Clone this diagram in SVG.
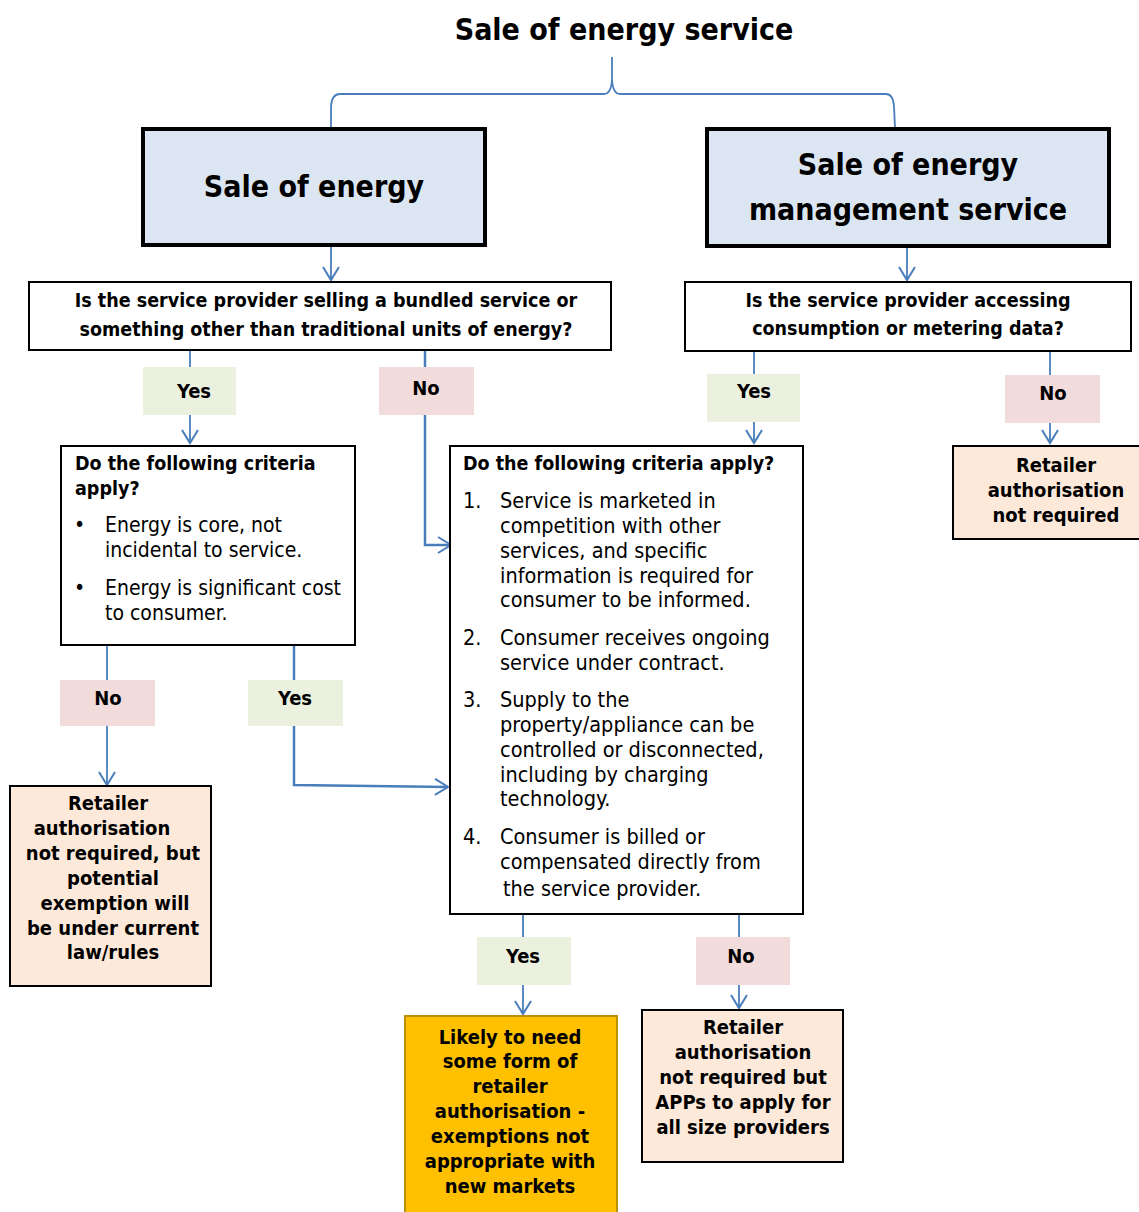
<svg xmlns="http://www.w3.org/2000/svg" width="1139" height="1212" viewBox="0 0 1139 1212">
<style>
text{font-family:"DejaVu Sans Condensed","DejaVu Sans",sans-serif;fill:#000}
.b{font-weight:bold}
.t{font-size:30px;font-weight:bold;text-anchor:middle}
.h{font-size:30px;font-weight:bold;text-anchor:middle}
.q{font-size:19.5px;font-weight:bold;text-anchor:middle}
.c{font-size:21.5px}
.c1{font-size:21px}
.ch{font-size:19.5px;font-weight:bold}
.r{font-size:20px;font-weight:bold;text-anchor:middle}
.l{font-size:20px;font-weight:bold;text-anchor:middle}
.hb{fill:#dce6f2;stroke:#000;stroke-width:4}
.qb{fill:#fff;stroke:#000;stroke-width:2}
.rb{fill:#fde9d9;stroke:#000;stroke-width:2}
.gb{fill:#ffc000;stroke:#b8900a;stroke-width:2}
.yes{fill:#ebf1de}
.no{fill:#f2dcdb}
.cn{fill:none;stroke:#4a7ebb;stroke-width:1.8}
.th{stroke-width:2.5}
</style>
<defs>
<marker id="ah" markerUnits="userSpaceOnUse" markerWidth="22" markerHeight="22" refX="14" refY="9" orient="auto">
<path d="M1,1 L14,9 L1,17" fill="none" stroke="#4a7ebb" stroke-width="2"/>
</marker>
</defs>

<text class="t" x="624" y="40">Sale of energy service</text>

<g id="connectors">
<path class="cn" d="M331,128 L331,106 Q332,94 340,94 L604,94 Q611,94 612,80 L612,57 M612,80 Q613,94 620,94 L886,94 Q893,94 894,106 L895,128"/>
<path class="cn" d="M331,246 L331,280" marker-end="url(#ah)"/>
<path class="cn" d="M907,247 L907,280" marker-end="url(#ah)"/>
<path class="cn" d="M190,350 L190,367"/>
<path class="cn" d="M190,415 L190,443" marker-end="url(#ah)"/>
<path class="cn th" d="M425,350 L425,367"/>
<path class="cn th" d="M425,415 L425,545 L451,545" marker-end="url(#ah)"/>
<path class="cn" d="M754,351 L754,374"/>
<path class="cn" d="M754,422 L754,443" marker-end="url(#ah)"/>
<path class="cn" d="M1050,351 L1050,375"/>
<path class="cn" d="M1050,423 L1050,443" marker-end="url(#ah)"/>
<path class="cn" d="M107,645 L107,680"/>
<path class="cn" d="M107,726 L107,785" marker-end="url(#ah)"/>
<path class="cn th" d="M294,645 L294,680"/>
<path class="cn th" d="M294,726 L294,785 L448,787" marker-end="url(#ah)"/>
<path class="cn" d="M523,914 L523,937"/>
<path class="cn" d="M523,985 L523,1014" marker-end="url(#ah)"/>
<path class="cn" d="M739,914 L739,937"/>
<path class="cn" d="M739,985 L739,1008" marker-end="url(#ah)"/>
</g>

<g id="n-sale-energy">
<rect class="hb" x="143" y="129" width="342" height="116"/>
<text class="h" x="314" y="197">Sale of energy</text>
</g>
<g id="n-sale-ems">
<rect class="hb" x="707" y="129" width="402" height="117"/>
<text class="h" x="908" y="175">Sale of energy</text>
<text class="h" x="908" y="220">management service</text>
</g>

<g id="n-q1">
<rect class="qb" x="29" y="282" width="582" height="68"/>
<text class="q" x="326" y="307">Is the service provider selling a bundled service or</text>
<text class="q" x="326" y="336">something other than traditional units of energy?</text>
</g>
<g id="n-q2">
<rect class="qb" x="685" y="282" width="446" height="69"/>
<text class="q" x="908" y="307">Is the service provider accessing</text>
<text class="q" x="908" y="335">consumption or metering data?</text>
</g>

<g id="l-yes1"><rect class="yes" x="143" y="367" width="93" height="48"/><text class="l" x="194" y="398">Yes</text></g>
<g id="l-no1"><rect class="no" x="379" y="367" width="95" height="48"/><text class="l" x="426" y="395">No</text></g>
<g id="l-yes2"><rect class="yes" x="707" y="374" width="93" height="48"/><text class="l" x="754" y="398">Yes</text></g>
<g id="l-no2"><rect class="no" x="1005" y="375" width="95" height="48"/><text class="l" x="1053" y="400">No</text></g>

<g id="n-crit1">
<rect class="qb" x="61" y="446" width="294" height="199"/>
<text class="ch" x="75" y="470">Do the following criteria</text>
<text class="ch" x="75" y="495">apply?</text>
<text class="c1" x="74" y="532">•</text>
<text class="c1" x="105" y="532">Energy is core, not</text>
<text class="c1" x="105" y="557">incidental to service.</text>
<text class="c1" x="74" y="595">•</text>
<text class="c1" x="105" y="595">Energy is significant cost</text>
<text class="c1" x="105" y="620">to consumer.</text>
</g>

<g id="n-crit2">
<rect class="qb" x="450" y="446" width="353" height="468"/>
<text class="ch" x="463" y="470">Do the following criteria apply?</text>
<text class="c" x="463" y="508">1.</text>
<text class="c" x="500" y="508">Service is marketed in</text>
<text class="c" x="500" y="533">competition with other</text>
<text class="c" x="500" y="558">services, and specific</text>
<text class="c" x="500" y="583">information is required for</text>
<text class="c" x="500" y="607">consumer to be informed.</text>
<text class="c" x="463" y="645">2.</text>
<text class="c" x="500" y="645">Consumer receives ongoing</text>
<text class="c" x="500" y="670">service under contract.</text>
<text class="c" x="463" y="707">3.</text>
<text class="c" x="500" y="707">Supply to the</text>
<text class="c" x="500" y="732">property/appliance can be</text>
<text class="c" x="500" y="757">controlled or disconnected,</text>
<text class="c" x="500" y="782">including by charging</text>
<text class="c" x="500" y="806">technology.</text>
<text class="c" x="463" y="844">4.</text>
<text class="c" x="500" y="844">Consumer is billed or</text>
<text class="c" x="500" y="869">compensated directly from</text>
<text class="c" x="503" y="896">the service provider.</text>
</g>

<g id="n-res-right">
<rect class="rb" x="953" y="446" width="190" height="93"/>
<text class="r" x="1056" y="472">Retailer</text>
<text class="r" x="1056" y="497">authorisation</text>
<text class="r" x="1056" y="522">not required</text>
</g>

<g id="l-no3"><rect class="no" x="60" y="680" width="95" height="46"/><text class="l" x="108" y="705">No</text></g>
<g id="l-yes3"><rect class="yes" x="248" y="680" width="95" height="46"/><text class="l" x="295" y="705">Yes</text></g>

<g id="n-res-left">
<rect class="rb" x="10" y="786" width="201" height="200"/>
<text class="r" x="108" y="810">Retailer</text>
<text class="r" x="102" y="835">authorisation</text>
<text class="r" x="113" y="860">not required, but</text>
<text class="r" x="113" y="885">potential</text>
<text class="r" x="115" y="910">exemption will</text>
<text class="r" x="113" y="935">be under current</text>
<text class="r" x="113" y="959">law/rules</text>
</g>

<g id="l-yes4"><rect class="yes" x="477" y="937" width="94" height="48"/><text class="l" x="523" y="963">Yes</text></g>
<g id="l-no4"><rect class="no" x="696" y="937" width="94" height="48"/><text class="l" x="741" y="963">No</text></g>

<g id="n-res-gold">
<rect class="gb" x="405" y="1016" width="212" height="200"/>
<text class="r" x="510" y="1044">Likely to need</text>
<text class="r" x="510" y="1068">some form of</text>
<text class="r" x="510" y="1093">retailer</text>
<text class="r" x="510" y="1118">authorisation -</text>
<text class="r" x="510" y="1143">exemptions not</text>
<text class="r" x="510" y="1168">appropriate with</text>
<text class="r" x="510" y="1193">new markets</text>
</g>

<g id="n-res-apps">
<rect class="rb" x="642" y="1010" width="201" height="152"/>
<text class="r" x="743" y="1034">Retailer</text>
<text class="r" x="743" y="1059">authorisation</text>
<text class="r" x="743" y="1084">not required but</text>
<text class="r" x="743" y="1109">APPs to apply for</text>
<text class="r" x="743" y="1134">all size providers</text>
</g>
</svg>
